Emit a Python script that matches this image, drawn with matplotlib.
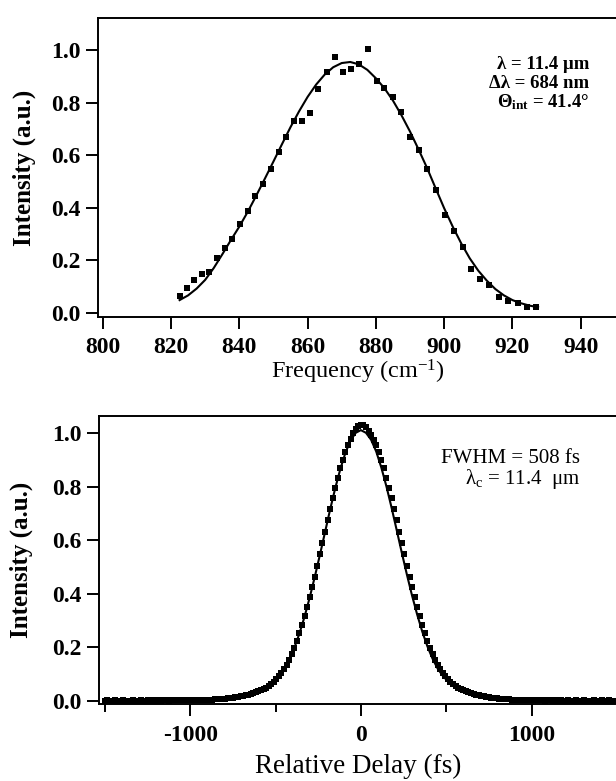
import matplotlib
matplotlib.use("Agg")
import matplotlib.pyplot as plt
import numpy as np
from matplotlib.ticker import MultipleLocator

plt.rcParams.update({
    "font.family": ["Liberation Serif", "DejaVu Serif"],
    "mathtext.fontset": "custom",
    "mathtext.rm": "Liberation Serif",
    "mathtext.it": "Liberation Serif:italic",
    "mathtext.bf": "Liberation Serif:bold",
    "axes.unicode_minus": False,
    "axes.linewidth": 1.4,
})

# ---- top panel: spectrum (frequency in cm^-1) ----
spec_freq = [822.5, 824.6, 826.8, 829.0, 831.2, 833.5, 835.8, 838.0, 840.2, 842.5,
             844.6, 846.9, 849.2, 851.5, 853.8, 856.1, 858.4, 860.7, 863.0, 865.6,
             867.9, 870.4, 872.8, 875.1, 877.7, 880.2, 882.5, 884.9, 887.5, 890.0,
             892.6, 895.1, 897.6, 900.3, 902.8, 905.4, 907.9, 910.6, 913.2, 916.0,
             918.8, 921.5, 924.2, 926.8]
spec_int = [0.063, 0.096, 0.124, 0.149, 0.156, 0.209, 0.247, 0.282, 0.337, 0.386,
            0.444, 0.491, 0.548, 0.611, 0.671, 0.732, 0.732, 0.762, 0.854, 0.915,
            0.975, 0.915, 0.928, 0.946, 1.004, 0.884, 0.856, 0.823, 0.763, 0.671,
            0.618, 0.548, 0.468, 0.372, 0.312, 0.251, 0.165, 0.128, 0.105, 0.061,
            0.045, 0.036, 0.023, 0.020]

fit_freq = [822.5, 825.0, 827.5, 830.0, 832.5, 835.0, 837.5, 840.0, 842.5, 845.0,
            847.5, 850.0, 852.5, 855.0, 857.5, 860.0, 862.5, 865.0, 867.5, 870.0,
            872.5, 875.0, 877.5, 880.0, 882.5, 885.0, 887.5, 890.0, 892.5, 895.0,
            897.5, 900.0, 902.5, 905.0, 907.5, 910.0, 912.5, 915.0, 917.5, 920.0,
            922.5, 925.0, 927.5]
fit_int = [0.048, 0.066, 0.092, 0.125, 0.170, 0.222, 0.276, 0.328, 0.385, 0.447,
           0.511, 0.576, 0.642, 0.707, 0.767, 0.822, 0.869, 0.907, 0.935, 0.951,
           0.955, 0.946, 0.925, 0.893, 0.855, 0.808, 0.752, 0.690, 0.622, 0.551,
           0.474, 0.398, 0.328, 0.264, 0.207, 0.160, 0.122, 0.090, 0.066, 0.048,
           0.036, 0.027, 0.021]

spec_notes = ["λ = 11.4 μm", "Δλ = 684 nm", "Θ$_{\\mathbf{int}}$ = 41.4°"]

# ---- bottom panel: autocorrelation (delay in fs, 15 fs steps) ----
delay = np.arange(-1500, 1501, 15)
acf = [
    # -1500 ... -1005
    0.000, 0.001, 0.000, 0.000, 0.001, 0.000, 0.000, 0.001, 0.000, 0.000,
    0.000, 0.001, 0.000, 0.000, 0.001, 0.000, 0.000, 0.001, 0.000, 0.001,
    0.000, 0.001, 0.000, 0.001, 0.001, 0.000, 0.001, 0.001, 0.001, 0.001,
    0.001, 0.001, 0.001, 0.001,
    # -990 ... -15
    0.001, 0.001, 0.002, 0.002, 0.002, 0.003, 0.003, 0.004, 0.004, 0.005,
    0.005, 0.006, 0.007, 0.008, 0.009, 0.010, 0.011, 0.012, 0.014, 0.016,
    0.018, 0.020, 0.022, 0.025, 0.028, 0.031, 0.035, 0.039, 0.044, 0.049,
    0.055, 0.062, 0.071, 0.081, 0.092, 0.104, 0.118, 0.134, 0.153, 0.174,
    0.198, 0.224, 0.252, 0.282, 0.315, 0.349, 0.386, 0.424, 0.464, 0.505,
    0.547, 0.589, 0.632, 0.674, 0.717, 0.757, 0.797, 0.834, 0.869, 0.902,
    0.930, 0.955, 0.980, 1.000, 1.016, 1.026,
    # 0
    1.030,
    # 15 ... 990
    1.030, 1.022, 1.010, 0.995, 0.975, 0.955, 0.930, 0.902, 0.869, 0.834,
    0.797, 0.757, 0.717, 0.674, 0.632, 0.589, 0.547, 0.505, 0.464, 0.424,
    0.386, 0.349, 0.315, 0.282, 0.252, 0.224, 0.198, 0.174, 0.153, 0.134,
    0.118, 0.104, 0.092, 0.081, 0.071, 0.062, 0.055, 0.049, 0.044, 0.039,
    0.035, 0.031, 0.028, 0.025, 0.022, 0.020, 0.018, 0.016, 0.014, 0.012,
    0.011, 0.010, 0.009, 0.008, 0.007, 0.006, 0.005, 0.005, 0.004, 0.004,
    0.003, 0.003, 0.002, 0.002, 0.002, 0.001,
    # 1005 ... 1500
    0.001, 0.001, 0.001, 0.001, 0.001, 0.000, 0.001, 0.001, 0.000, 0.001,
    0.000, 0.001, 0.000, 0.000, 0.001, 0.000, 0.000, 0.001, 0.000, 0.000,
    0.001, 0.000, 0.000, 0.000, 0.001, 0.000, 0.000, 0.001, 0.000, 0.000,
    0.001, 0.000, 0.000, 0.000,
]

fit_delay = [-1500, -960, -930, -900, -870, -840, -810, -780, -750, -720, -690,
             -660, -630, -600, -570, -540, -510, -480, -450, -420, -390, -360,
             -330, -300, -270, -240, -210, -180, -150, -120, -90, -60, -30, 0,
             30, 60, 90, 120, 150, 180, 210, 240, 270, 300, 330, 360, 390, 420,
             450, 480, 510, 540, 570, 600, 630, 660, 690, 720, 750, 780, 810,
             840, 870, 900, 930, 960, 1500]
fit_acf = [0.000, 0.002, 0.002, 0.003, 0.004, 0.005, 0.006, 0.008, 0.010, 0.013,
           0.017, 0.022, 0.027, 0.034, 0.043, 0.054, 0.070, 0.090, 0.116, 0.152,
           0.197, 0.251, 0.314, 0.385, 0.463, 0.545, 0.630, 0.715, 0.795, 0.867,
           0.928, 0.974, 1.002, 1.012, 1.002, 0.976, 0.932, 0.872, 0.801, 0.722,
           0.638, 0.553, 0.471, 0.393, 0.322, 0.258, 0.203, 0.157, 0.120, 0.093,
           0.072, 0.056, 0.044, 0.035, 0.028, 0.022, 0.018, 0.014, 0.011, 0.008,
           0.006, 0.005, 0.004, 0.003, 0.002, 0.002, 0.000]

acf_notes = ["FWHM = 508 fs", "λ$_\\mathregular{c}$ = 11.4  μm"]

TICK_FS = 17
YLAB_FS = 18

fig = plt.figure(figsize=(6.16, 7.81), dpi=100)
ax1 = fig.add_axes([0.1596, 0.5945, 0.8430, 0.3821])
ax2 = fig.add_axes([0.1607, 0.0982, 0.8430, 0.3691])

# top
ax1.plot(spec_freq, spec_int, "s", ms=4.8, mew=0, color="black")
ax1.plot(fit_freq, fit_int, "-", lw=1.5, color="black")
ax1.set_xlim(798.7, 950.8)
ax1.set_ylim(-0.0152, 1.1215)
ax1.set_xticks(np.arange(800, 941, 20))
ax1.set_xticklabels([f"{v}" for v in range(800, 941, 20)], fontweight="bold")
ax1.set_yticks(np.arange(0, 1.01, 0.2))
ax1.set_yticklabels([f"{v:.1f}" for v in np.arange(0, 1.01, 0.2)], fontweight="bold")
ax1.set_xlabel("Frequency (cm$^{\\mathregular{-1}}$)", fontsize=17.5)
ax1.set_ylabel("Intensity (a.u.)", fontsize=YLAB_FS, fontweight="bold")
ax1.yaxis.set_label_coords(-0.1206, 0.5)
ax1.xaxis.set_label_coords(0.5, -0.137)
for i, s in enumerate(spec_notes):
    ax1.text(0.945, 0.8435 - 0.063 * i, s, transform=ax1.transAxes,
             ha="right", va="center", fontsize=13.5, fontweight="bold")

# bottom
ax2.plot(delay, acf, "s", ms=4.5, mew=0, color="black")
ax2.plot(fit_delay, fit_acf, "-", lw=1.5, color="black")
ax2.set_xlim(-1534, 1508)
ax2.set_ylim(-0.0135, 1.0647)
ax2.xaxis.set_major_locator(MultipleLocator(1000))
ax2.xaxis.set_minor_locator(MultipleLocator(500))
ax2.set_xticks([-1000, 0, 1000])
ax2.set_xticklabels(["-1000", "0", "1000"], fontweight="bold")
ax2.set_yticks(np.arange(0, 1.01, 0.2))
ax2.set_yticklabels([f"{v:.1f}" for v in np.arange(0, 1.01, 0.2)], fontweight="bold")
ax2.set_xlabel("Relative Delay (fs)", fontsize=19.5)
ax2.set_ylabel("Intensity (a.u.)", fontsize=YLAB_FS, fontweight="bold")
ax2.yaxis.set_label_coords(-0.1267, 0.5)
ax2.xaxis.set_label_coords(0.5, -0.172)
for i, s in enumerate(acf_notes):
    ax2.text(0.9265, 0.854 - 0.073 * i, s, transform=ax2.transAxes,
             ha="right", va="center", fontsize=15)

for ax in (ax1, ax2):
    ax.tick_params(which="major", direction="out", length=8.8, width=1.4,
                   labelsize=TICK_FS, pad=4)
    ax.tick_params(axis="x", which="major", pad=6)
    ax.tick_params(which="minor", direction="out", length=5.5, width=1.4)
    for sp in ax.spines.values():
        sp.set_linewidth(1.4)

fig.savefig("out.png", dpi=100, facecolor="white")
